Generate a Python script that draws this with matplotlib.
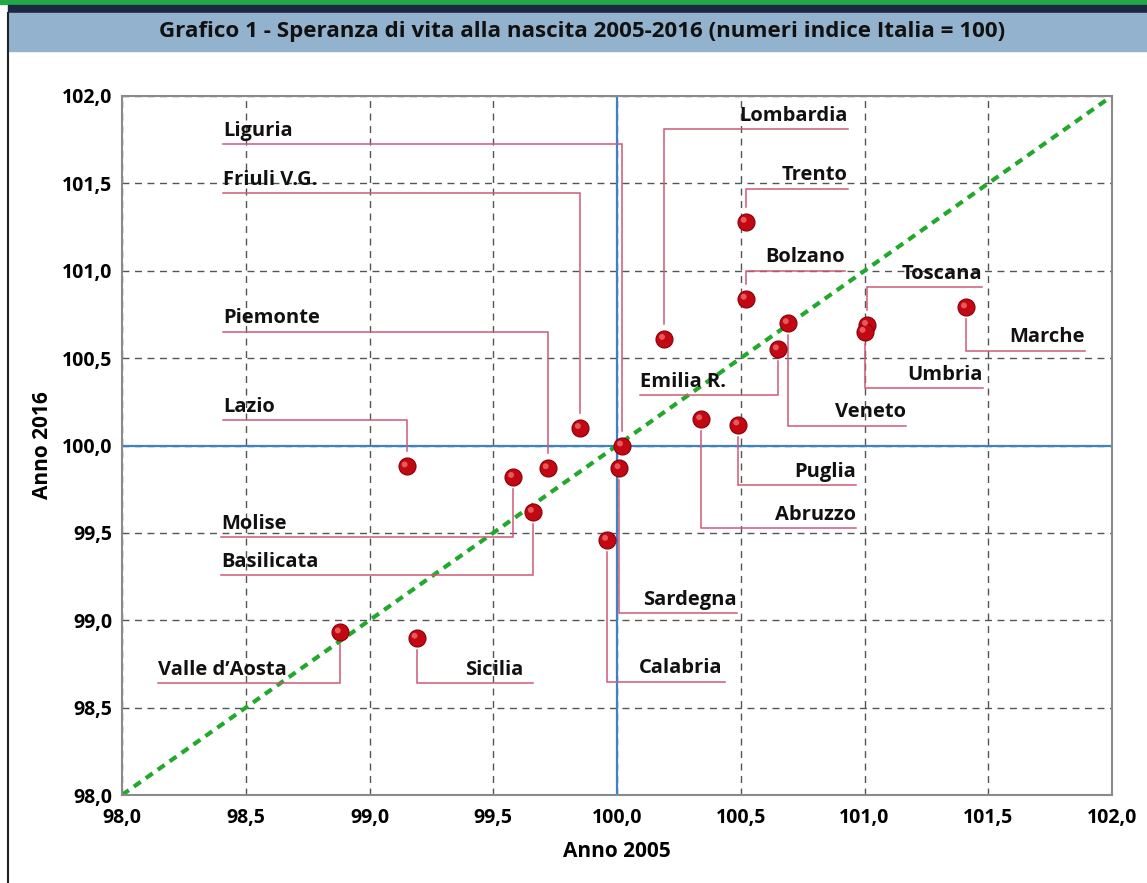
import matplotlib
matplotlib.use("Agg")
import matplotlib.pyplot as plt
import matplotlib.transforms as mtransforms
from matplotlib.patches import Rectangle
from matplotlib.lines import Line2D

# ---------------- data ----------------
regions = ["Lombardia", "Trento", "Bolzano", "Veneto", "Emilia R.", "Toscana",
           "Umbria", "Marche", "Abruzzo", "Puglia", "Friuli V.G.", "Liguria",
           "Sardegna", "Lazio", "Piemonte", "Molise", "Basilicata", "Calabria",
           "Valle d\u2019Aosta", "Sicilia"]
anno_2005 = [100.19, 100.52, 100.52, 100.69, 100.65, 101.01,
             101.00, 101.41, 100.34, 100.49, 99.85, 100.02,
             100.01, 99.15, 99.72, 99.58, 99.66, 99.96,
             98.88, 99.19]
anno_2016 = [100.61, 101.28, 100.84, 100.70, 100.55, 100.69,
             100.65, 100.79, 100.15, 100.12, 100.10, 100.00,
             99.87, 99.88, 99.87, 99.82, 99.62, 99.46,
             98.93, 98.90]
ticks = [98.0, 98.5, 99.0, 99.5, 100.0, 100.5, 101.0, 101.5, 102.0]
tick_labels = ["98,0", "98,5", "99,0", "99,5", "100,0", "100,5", "101,0", "101,5", "102,0"]
title = "Grafico 1 - Speranza di vita alla nascita 2005-2016 (numeri indice Italia = 100)"
xlabel = "Anno 2005"
ylabel = "Anno 2016"

# label layout: (leader y, free end x of leader, text side)
layout = {
    "Liguria":        (101.725, 98.41, "left"),
    "Friuli V.G.":    (101.445, 98.41, "left"),
    "Piemonte":       (100.650, 98.41, "left"),
    "Lazio":          (100.146, 98.41, "left"),
    "Molise":         (99.476, 98.40, "left"),
    "Basilicata":     (99.259, 98.40, "left"),
    "Valle d\u2019Aosta": (98.641, 98.145, "left"),
    "Sicilia":        (98.641, 99.66, "right"),
    "Calabria":       (98.647, 100.436, "right"),
    "Sardegna":       (99.041, 100.485, "right"),
    "Abruzzo":        (99.528, 100.966, "right"),
    "Puglia":         (99.774, 100.966, "right"),
    "Emilia R.":      (100.289, 100.093, "left"),
    "Veneto":         (100.112, 101.168, "right"),
    "Umbria":         (100.329, 101.479, "right"),
    "Marche":         (100.541, 101.891, "right"),
    "Toscana":        (100.907, 101.475, "right"),
    "Bolzano":        (100.999, 100.921, "right"),
    "Trento":         (101.468, 100.933, "right"),
    "Lombardia":      (101.811, 100.933, "right"),
}
text_shift = {"Sicilia": -0.04, "Calabria": -0.012}

FONT = "Open Sans"
plt.rcParams["font.family"] = [FONT, "DejaVu Sans"]
WT = "bold"

W, H = 1147, 883
fig = plt.figure(figsize=(W / 100, H / 100), dpi=100)
fig.patch.set_facecolor("white")

# frame decorations
fig.add_artist(Rectangle((0, 1 - 4 / H), 1, 4 / H, transform=fig.transFigure,
                         color="#23a847", zorder=0))
fig.add_artist(Rectangle((8 / W, 1 - 13 / H), 1, 8 / H, transform=fig.transFigure,
                         color="#1d2742", zorder=0))
fig.add_artist(Rectangle((8 / W, 1 - 51 / H), 1, 38 / H, transform=fig.transFigure,
                         color="#93b2cd", zorder=0))
fig.add_artist(Line2D([8 / W, 8 / W], [0, 1 - 13 / H], transform=fig.transFigure,
                      color="#222222", lw=1.5))
fig.text(582 / W, 1 - 31 / H, title, ha="center", va="center",
         fontsize=16.1, fontweight=WT, color="#111111")

ax = fig.add_axes([122 / W, 1 - 795 / H, (1112 - 122) / W, (795 - 96) / H])
ax.set_xlim(98, 102)
ax.set_ylim(98, 102)
ax.set_xticks(ticks)
ax.set_yticks(ticks)
ax.set_xticklabels(tick_labels, fontsize=14, fontweight=WT)
ax.set_yticklabels(tick_labels, fontsize=14, fontweight=WT)
ax.tick_params(axis="x", length=0, pad=9)
ax.tick_params(axis="y", length=0, pad=7)
for s in ax.spines.values():
    s.set_color("#8a8a8a")
    s.set_linewidth(1.5)
ax.grid(True, ls=(0, (5, 4)), color="#555555", lw=1.0)
ax.set_axisbelow(True)
ax.set_xlabel(xlabel, fontsize=15, fontweight=WT, labelpad=10)
ax.set_ylabel(ylabel, fontsize=15, fontweight=WT, labelpad=6)

ax.axvline(100, color="#3d82c4", lw=1.6, zorder=1)
ax.axhline(100, color="#3d82c4", lw=1.6, zorder=1)
ax.plot([98, 102], [98, 102], color="#22a82a", lw=3, ls=(0, (2, 1.5)), zorder=2)

lc = "#cf5a76"
px_y = 174.75
for name, x, y in zip(regions, anno_2005, anno_2016):
    ly, fx, side = layout[name]
    gap = (15 if ly > y else 12) / px_y
    yend = y + gap if ly > y else y - gap
    ax.plot([fx, x, x], [ly, ly, yend], color=lc, lw=1.1, zorder=3,
            solid_joinstyle="miter")
    tx = fx + text_shift.get(name, 0)
    ax.annotate(name, (tx, ly), xytext=(0, 2.5), textcoords="offset points",
                ha=side, va="bottom", fontsize=14.5, fontweight=WT,
                color="#111111", zorder=4)

ax.scatter(anno_2005, anno_2016, s=150, color="#c20812", edgecolors="#8a0008",
           linewidths=0.8, zorder=5)
hl = ax.transData + mtransforms.ScaledTranslation(-2 / 100, 2 / 100, fig.dpi_scale_trans)
ax.scatter(anno_2005, anno_2016, s=18, color="#f07070", edgecolors="none",
           alpha=0.8, zorder=6, transform=hl)

fig.savefig("out.png", dpi=100)
